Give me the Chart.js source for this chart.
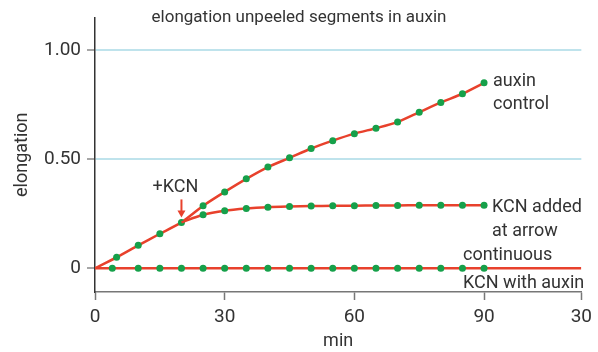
<!DOCTYPE html>
<html><head><meta charset="utf-8">
<script src="https://cdn.jsdelivr.net/npm/chart.js@4/dist/chart.umd.min.js"></script>
<style>html,body{margin:0;padding:0;background:#fff}</style>
</head><body>
<canvas id="c" width="598" height="352"></canvas>
<script>
// ---- data ----
const auxinMinutes = [0,5,10,15,20,25,30,35,40,45,50,55,60,65,70,75,80,85,90];
const auxinControl = [0,0.05,0.105,0.158,0.21,0.286,0.35,0.41,0.464,0.506,0.549,0.585,0.617,0.642,0.67,0.715,0.76,0.80,0.85];
const kcnMinutes = [20,25,30,35,40,45,50,55,60,65,70,75,80,85,90];
const kcnAdded = [0.21,0.245,0.264,0.274,0.28,0.283,0.285,0.286,0.287,0.288,0.288,0.289,0.289,0.289,0.289];
const continuousMinutes = [0,4,10,15,20,25,30,35,40,45,50,55,60,65,70,75,80,85,90,112.5];
const continuousKCN = [0,0,0,0,0,0,0,0,0,0,0,0,0,0,0,0,0,0,0,0];
const xTickValues = [0,30,60,90,112.5];
const xTickLabels = ['0','30','60','90','30'];
const yTickValues = [0,0.5,1];
const yTickLabels = ['0','0.50','1.00'];
const kcnArrowMinute = 20;

const RED = '#e8412c', GREEN = '#16a04a', TXT = '#333333';
const FONT = 'Roboto, "DejaVu Sans", sans-serif';

function pts(xs, ys){ return xs.map((x,i)=>({x:x, y:ys[i]})); }

const annot = {
  id:'annot',
  afterDatasetsDraw(chart){
    const c = chart.ctx, xs = chart.scales.x, ys = chart.scales.y;
    c.save();
    c.fillStyle = TXT;
    c.font = '17px ' + FONT;
    c.textAlign = 'center'; c.textBaseline = 'middle';
    c.fillText('elongation unpeeled segments in auxin', chart.width/2, 18);
    c.font = '18px ' + FONT;
    c.textAlign = 'left';
    const n = auxinMinutes.length-1;
    let px = xs.getPixelForValue(auxinMinutes[n]), py = ys.getPixelForValue(auxinControl[n]);
    c.fillText('auxin', px+9, py-1);
    c.fillText('control', px+9, py+22);
    const m = kcnMinutes.length-1;
    px = xs.getPixelForValue(kcnMinutes[m]); py = ys.getPixelForValue(kcnAdded[m]);
    c.fillText('KCN added', px+8, py+2);
    c.fillText('at arrow', px+8, py+26);
    px = xs.getPixelForValue(90); py = ys.getPixelForValue(0);
    c.fillText('continuous', px-21, py-13);
    c.fillText('KCN with auxin', px-21, py+15);
    // +KCN arrow
    const ai = auxinMinutes.indexOf(kcnArrowMinute);
    px = xs.getPixelForValue(kcnArrowMinute); py = ys.getPixelForValue(auxinControl[ai]);
    c.textAlign = 'center';
    c.fillText('+KCN', px-6, py-35);
    c.strokeStyle = RED; c.fillStyle = RED; c.lineWidth = 2;
    c.beginPath(); c.moveTo(px, py-23); c.lineTo(px, py-10); c.stroke();
    c.beginPath(); c.moveTo(px-4, py-12); c.lineTo(px+4, py-12); c.lineTo(px, py-5); c.closePath(); c.fill();
    c.restore();
  }
};

new Chart(document.getElementById('c'), {
  type:'line',
  data:{ datasets:[
    { label:'continuous KCN with auxin', data: pts(continuousMinutes, continuousKCN),
      borderColor:RED, backgroundColor:GREEN, borderWidth:2.5, tension:0,
      pointRadius: ctx => (ctx.dataIndex===0 || ctx.dataIndex===continuousMinutes.length-1) ? 0 : 3.5,
      pointBorderWidth:0 },
    { label:'KCN added at arrow', data: pts(kcnMinutes, kcnAdded),
      borderColor:RED, backgroundColor:GREEN, borderWidth:2.5, tension:0.3,
      pointRadius: ctx => ctx.dataIndex===0 ? 0 : 3.5, pointBorderWidth:0 },
    { label:'auxin control', data: pts(auxinMinutes, auxinControl),
      borderColor:RED, backgroundColor:GREEN, borderWidth:2.5, tension:0.2,
      pointRadius: ctx => ctx.dataIndex===0 ? 0 : 3.5, pointBorderWidth:0 }
  ]},
  options:{
    responsive:false, animation:false, devicePixelRatio:1,
    layout:{ padding:{ top:15, right:16, left:12, bottom:0 } },
    plugins:{ legend:{display:false}, tooltip:{enabled:false}, title:{display:false} },
    scales:{
      x:{ type:'linear', min:0, max:112.5,
        afterBuildTicks: s => { s.ticks = xTickValues.map(v=>({value:v})); },
        afterFit: s => { s.height = 60; },
        ticks:{ callback:(v,i)=>xTickLabels[i], color:TXT, font:{family:FONT, size:19}, padding:6, maxRotation:0, autoSkip:false },
        grid:{ drawOnChartArea:false, color:'#777', tickLength:8, tickWidth:1.5 },
        border:{ color:'#777', width:1.5 },
        title:{ display:true, text:'min', color:TXT, font:{family:FONT, size:18}, padding:{top:0,bottom:0} }
      },
      y:{ min:-0.109, max:1.15,
        afterBuildTicks: s => { s.ticks = yTickValues.map(v=>({value:v})); },
        afterFit: s => { s.width = 83; },
        ticks:{ callback:(v,i)=>yTickLabels[i], color:TXT, font:{family:FONT, size:19}, padding:6, autoSkip:false },
        grid:{ color: ctx => (ctx.tick && ctx.tick.value!==0) ? '#bfe3ec' : 'rgba(0,0,0,0)',
               tickColor:'#888', lineWidth:2, tickLength:8, tickWidth:1.5 },
        border:{ color:'#333', width:1.5 },
        title:{ display:true, text:'elongation', color:TXT, font:{family:FONT, size:18}, padding:{top:0,bottom:4} }
      }
    }
  },
  plugins:[annot]
});
</script>
</body></html>
